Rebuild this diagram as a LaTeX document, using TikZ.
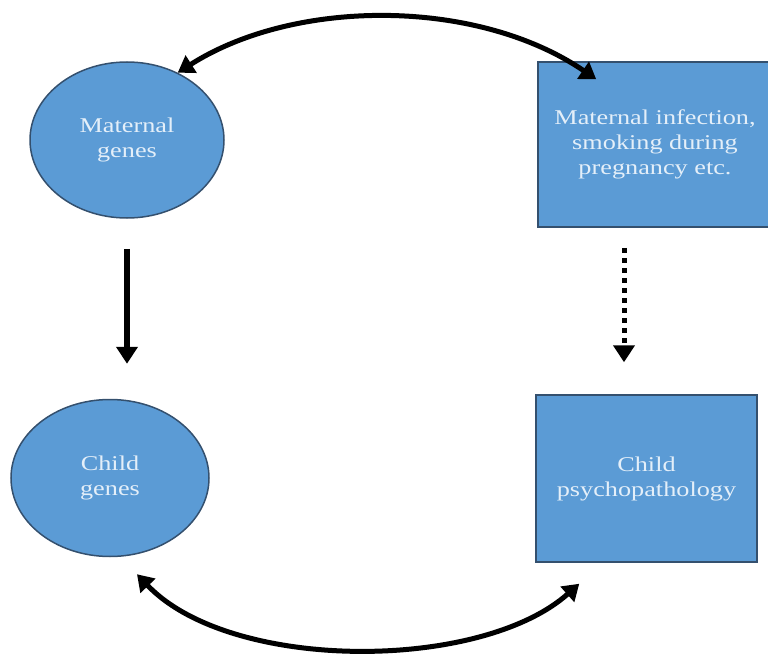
\documentclass[tikz,border=0pt]{standalone}
\usepackage{fontspec}
\setmainfont{Liberation Serif}[FakeStretch=1.25]
\usepackage{xcolor}
\usetikzlibrary{arrows.meta,shapes.geometric}
\definecolor{boxblue}{HTML}{5B9BD5}
\definecolor{edgeblue}{HTML}{34506E}
\definecolor{paleblue}{HTML}{E4EFF9}

\begin{document}
\begin{tikzpicture}[x=1pt,y=-1pt]
\tikzset{gene/.style={ellipse, draw=edgeblue, line width=1.5pt, fill=boxblue, text=paleblue,
  minimum width=194pt, minimum height=156pt, inner sep=0pt, align=center,
  font=\fontsize{21}{25}\selectfont},
  factor/.style={rectangle, draw=edgeblue, line width=1.5pt, fill=boxblue, text=paleblue,
  minimum width=234pt, minimum height=165pt, inner sep=0pt, align=center,
  font=\fontsize{21}{25}\selectfont},
  link/.style={line width=5.5pt, -{Triangle[width=21pt,length=17pt]}},
  arc/.style={line width=5pt, {Triangle[width=20pt,length=16pt]}-{Triangle[width=20pt,length=16pt]}}}
\useasboundingbox (0,0) rectangle (768,655);
\node[gene] (mg) at (127,140) {Maternal\\genes};
\node[gene, minimum width=198pt, minimum height=157pt] (cg) at (110,478) {Child\\genes};
\node[factor] (mi) at (655,144.5) {Maternal infection,\\smoking during\\pregnancy etc.};
\node[factor, minimum width=221pt, minimum height=167pt] (cp) at (646.5,478.5) {Child\\psychopathology};
% shared environment
\draw[arc] (mg.53) .. controls (295,-2) and (477,-2) .. ([shift={(59,18)}]mi.north west);
\draw[arc] ([shift={(27,17)}]cg.south) .. controls (230,672) and (480,672) .. ([shift={(44,21)}]cp.south west);
% transmission
\draw[link, shorten <=30pt, shorten >=35pt] (mg.south) -- (mg.south |- cg.north);
\coordinate (dtop) at ([xshift=-31pt]mi.south);
\draw[link, line width=5pt, line cap=butt, dash pattern=on 5pt off 5pt, shorten <=20pt, shorten >=32pt] (dtop) -- (dtop |- cp.north);
\end{tikzpicture}
\end{document}
